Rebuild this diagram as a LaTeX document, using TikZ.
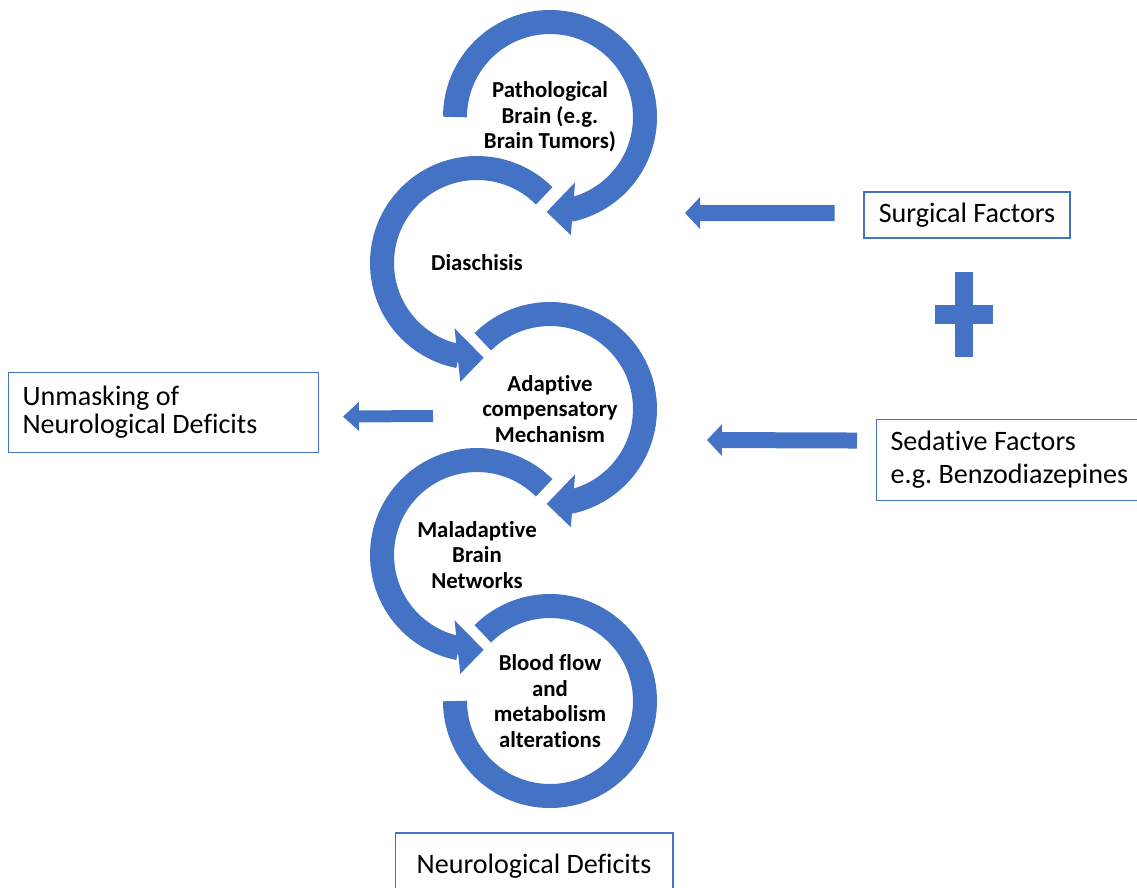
\documentclass[tikz,border=0pt]{standalone}
\usepackage{fontspec}
\setmainfont{Carlito}[Ligatures=CommonOff]
\usetikzlibrary{arrows.meta}
\definecolor{officeblue}{RGB}{68,114,196}
\frenchspacing

\begin{document}
\begin{tikzpicture}[x=0.02cm,y=0.02cm]
\tikzstyle{band}=[draw=officeblue, line width=0.48cm]
\tikzstyle{head}=[fill=officeblue]
\tikzstyle{stage}=[align=center, inner sep=0pt, font=\fontsize{13}{14.5}\selectfont\bfseries]
\tikzstyle{factor}=[draw=officeblue, line width=0.6pt, inner xsep=0.28cm, inner ysep=0pt, font=\fontsize{16}{16}\selectfont]
\tikzstyle{blk}=[draw=officeblue, line width=0.32cm, -{Triangle[length=0.3cm,width=0.62cm]}]
\useasboundingbox (0,0) rectangle (1137,-887);
% stages of the cycle
\node[stage] (1) at (550,-117) {Pathological\\Brain (e.g.\\Brain Tumors)};
\node[stage] (2) at (477,-263) {Diaschisis};
\node[stage] (3) at (550,-409) {Adaptive\\compensatory\\Mechanism};
\node[stage] (4) at (477,-555) {Maladaptive\\Brain\\Networks};
\node[stage] (5) at (550,-701) {Blood flow\\and\\metabolism\\alterations};
% factor boxes
\node[factor, align=center, minimum width=4.12cm, minimum height=0.92cm] (6) at (967,-215) {Surgical Factors};
\node[factor, align=flush left, anchor=north west, text width=5.04cm, minimum height=1.62cm, font=\fontsize{16}{18.8}\selectfont] (7) at (876,-419) {Sedative Factors\\e.g. Benzodiazepines};
\node[factor, align=flush left, anchor=north west, text width=5.64cm, minimum height=1.6cm] (8) at (8,-372) {Unmasking of\\Neurological Deficits};
\node[factor, align=center, minimum width=5.56cm, minimum height=1.32cm] (9) at (534,-866) {Neurological Deficits};
% curved arrows
\draw[band] ([shift={(180:95)}]1.center) arc[start angle=180, end angle=-78, radius=95];
\fill[head] ([shift={(-69:70)}]1.center) -- ([shift={(-92:95)}]1.center) -- ([shift={(-80:120)}]1.center) -- cycle;
\draw[band] ([shift={(45:95)}]2.center) arc[start angle=45, end angle=259, radius=95];
\fill[head] ([shift={(251:69)}]2.center) -- ([shift={(274:95)}]2.center) -- ([shift={(262:120)}]2.center) -- cycle;
\draw[band] ([shift={(135:95)}]3.center) arc[start angle=135, end angle=-78, radius=95];
\fill[head] ([shift={(-69:70)}]3.center) -- ([shift={(-92:95)}]3.center) -- ([shift={(-80:120)}]3.center) -- cycle;
\draw[band] ([shift={(45:95)}]4.center) arc[start angle=45, end angle=259, radius=95];
\fill[head] ([shift={(251:69)}]4.center) -- ([shift={(274:95)}]4.center) -- ([shift={(262:120)}]4.center) -- cycle;
\draw[band] ([shift={(135:95)}]5.center) arc[start angle=135, end angle=-180, radius=95];
% plus sign
\fill[head] (955,-272) rectangle (973,-357);
\fill[head] (935,-305) rectangle (993,-324);
% block arrows
\coordinate (t6) at (685,-213);
\coordinate (t7) at (707,-440);
\coordinate (t8) at (433,-416);
\draw[blk] ([xshift=-0.58cm,yshift=0.04cm]6.west) -- (t6);
\draw[blk] ([xshift=-0.38cm,yshift=0.39cm]7.west) -- (t7);
\draw[blk, line width=0.24cm, -{Triangle[length=0.32cm,width=0.56cm]}] (t8) -- ([xshift=0.48cm,yshift=-0.08cm]8.east);
\end{tikzpicture}
\end{document}
